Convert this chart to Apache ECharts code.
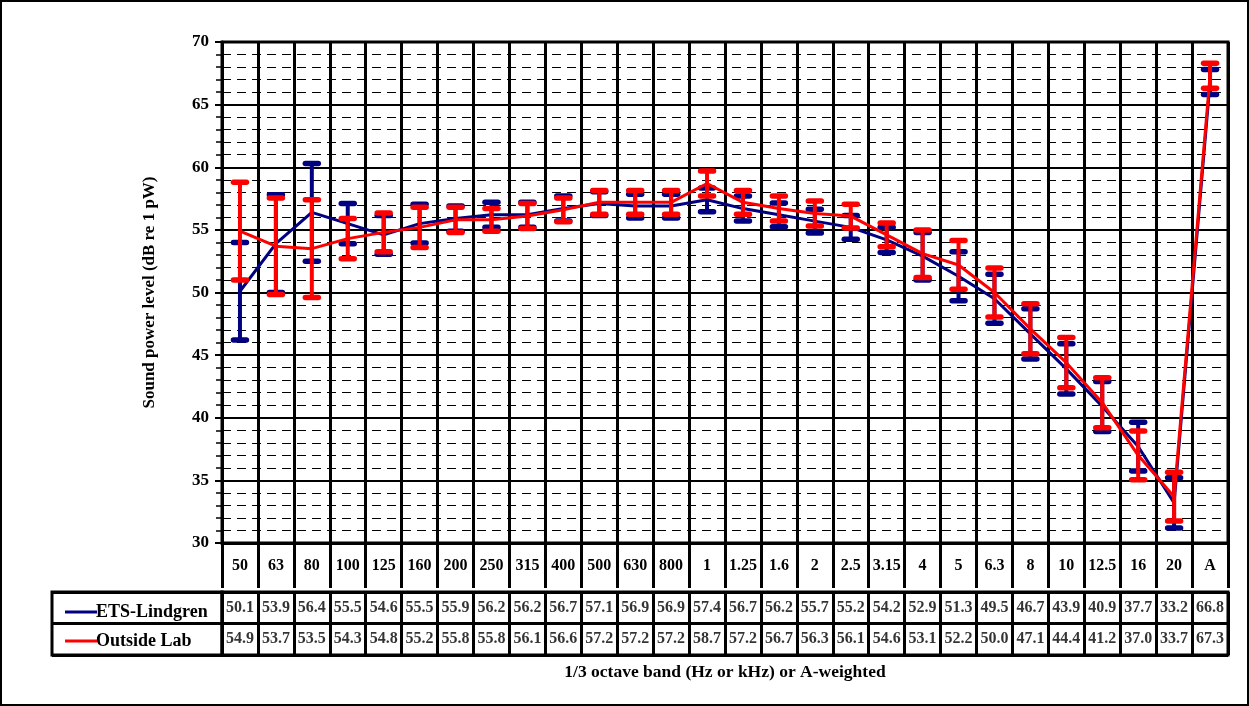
<!DOCTYPE html>
<html>
<head>
<meta charset="utf-8">
<script src="https://cdn.jsdelivr.net/npm/echarts@6/dist/echarts.min.js"></script>
<style>
html,body{margin:0;padding:0;background:#fff;}
#chart{width:1249px;height:706px;box-sizing:border-box;border:2px solid #000;}
</style>
</head>
<body>
<div id="chart"></div>
<script>
const categories = ['50','63','80','100','125','160','200','250','315','400','500','630','800','1','1.25','1.6','2','2.5','3.15','4','5','6.3','8','10','12.5','16','20','A'];
const etsValues = [50.1,53.9,56.4,55.5,54.6,55.5,55.9,56.2,56.2,56.7,57.1,56.9,56.9,57.4,56.7,56.2,55.7,55.2,54.2,52.9,51.3,49.5,46.7,43.9,40.9,37.7,33.2,66.8];
const outValues = [54.9,53.7,53.5,54.3,54.8,55.2,55.8,55.8,56.1,56.6,57.2,57.2,57.2,58.7,57.2,56.7,56.3,56.1,54.6,53.1,52.2,50.0,47.1,44.4,41.2,37.0,33.7,67.3];
const etsErr = [3.9,3.9,3.9,1.6,1.55,1.55,1.0,1.0,1.0,1.0,0.95,0.95,0.95,0.95,1.0,0.95,0.95,0.95,1.0,1.9,1.95,1.95,2.0,2.0,2.0,1.95,2.0,1.0];
const outErr = [3.9,3.85,3.9,1.6,1.55,1.6,1.0,0.9,1.0,0.95,0.95,0.95,0.95,1.0,0.95,1.0,1.0,0.95,0.95,1.9,1.95,1.95,2.0,2.0,2.0,1.95,1.95,1.0];
const seriesNames = ['ETS-Lindgren','Outside Lab'];
const yTicks = {min:30, max:70, interval:5};

const BLUE = '#000080', RED = '#ff0000';
const FONT = '"Liberation Serif","Times New Roman",serif';

function errRender(color){
  return function(params, api){
    const i = api.value(0), v = api.value(1), e = api.value(2);
    const top = api.coord([i, v + e]);
    const bot = api.coord([i, v - e]);
    const hw = 6.5;
    return {type:'group', children:[
      {type:'line', shape:{x1:top[0],y1:top[1],x2:bot[0],y2:bot[1]}, style:{stroke:color,lineWidth:4}},
      {type:'line', shape:{x1:top[0]-hw,y1:top[1],x2:top[0]+hw,y2:top[1]}, style:{stroke:color,lineWidth:5.5,lineCap:'round'}},
      {type:'line', shape:{x1:bot[0]-hw,y1:bot[1],x2:bot[0]+hw,y2:bot[1]}, style:{stroke:color,lineWidth:5.5,lineCap:'round'}}
    ]};
  };
}

const tableData = [];
etsValues.forEach((v,i)=>tableData.push([i, seriesNames[0], v]));
outValues.forEach((v,i)=>tableData.push([i, seriesNames[1], v]));

const chart = echarts.init(document.getElementById('chart'), null, {renderer:'canvas'});
chart.setOption({
  animation:false,
  backgroundColor:'#fff',
  textStyle:{fontFamily:FONT},
  legend:{
    data:seriesNames.map(n=>({name:n, icon:'rect'})),
    orient:'vertical', left:58, top:596, itemWidth:32, itemHeight:3, itemGap:11,
    textStyle:{fontFamily:FONT, fontWeight:'bold', fontSize:18, color:'#000', padding:[0,0,0,-6]},
    selectedMode:false
  },
  grid:[
    {left:220, right:19, top:40, bottom:161, show:true, borderColor:'#000', borderWidth:3},
    {left:220, right:19, top:590, height:63, show:true, borderColor:'#000', borderWidth:3},
    {left:50, width:170, top:590, height:63, show:true, borderColor:'#000', borderWidth:3}
  ],
  xAxis:[
    {type:'category', gridIndex:0, data:categories, boundaryGap:true,
     axisLine:{lineStyle:{color:'#000', width:3}},
     axisTick:{show:true, interval:0, length:45, lineStyle:{color:'#000', width:3}},
     axisLabel:{interval:0, margin:15, color:'#000', fontWeight:'bold', fontSize:16, fontFamily:FONT},
     splitLine:{show:true, interval:0, lineStyle:{color:'#000', width:3}}},
    {type:'category', gridIndex:1, data:categories, boundaryGap:true, position:'bottom',
     axisLine:{show:false}, axisTick:{show:false}, axisLabel:{show:false},
     splitLine:{show:true, interval:0, lineStyle:{color:'#000', width:3}},
     name:'1/3 octave band (Hz or kHz) or A-weighted', nameLocation:'middle', nameGap:8,
     nameTextStyle:{fontWeight:'bold', fontSize:17.5, color:'#000', fontFamily:FONT}},
    {type:'value', gridIndex:2, show:false, min:0, max:1}
  ],
  yAxis:[
    {type:'value', gridIndex:0, min:yTicks.min, max:yTicks.max, interval:yTicks.interval,
     name:'Sound power level (dB re 1 pW)', nameLocation:'middle', nameGap:64, nameRotate:90,
     nameTextStyle:{fontWeight:'bold', fontSize:17, color:'#000', fontFamily:FONT},
     axisLine:{show:true, lineStyle:{color:'#000', width:3}},
     axisTick:{show:true, length:7, lineStyle:{color:'#000', width:2}},
     minorTick:{show:true, splitNumber:5, length:6, lineStyle:{color:'#000', width:1.5}},
     axisLabel:{margin:13, color:'#000', fontWeight:'bold', fontSize:17, fontFamily:FONT},
     splitLine:{show:true, lineStyle:{color:'#000', width:2}},
     minorSplitLine:{show:true, lineStyle:{color:'#000', width:1, type:[9,6]}}},
    {type:'category', gridIndex:1, data:seriesNames, inverse:true,
     axisLine:{show:false}, axisTick:{show:false}, axisLabel:{show:false},
     splitLine:{show:true, interval:0, lineStyle:{color:'#000', width:3}}},
    {type:'category', gridIndex:2, data:seriesNames, inverse:true,
     axisLine:{show:false}, axisTick:{show:false}, axisLabel:{show:false},
     splitLine:{show:true, interval:0, lineStyle:{color:'#000', width:3}}}
  ],
  series:[
    {name:'ETS-Lindgren err', type:'custom', xAxisIndex:0, yAxisIndex:0, z:3,
     renderItem:errRender(BLUE), data:etsValues.map((v,i)=>[i,v,etsErr[i]])},
    {name:seriesNames[0], type:'line', xAxisIndex:0, yAxisIndex:0, z:4, data:etsValues,
     symbol:'none', lineStyle:{color:BLUE, width:3}, itemStyle:{color:BLUE}},
    {name:'Outside Lab err', type:'custom', xAxisIndex:0, yAxisIndex:0, z:5,
     renderItem:errRender(RED), data:outValues.map((v,i)=>[i,v,outErr[i]])},
    {name:seriesNames[1], type:'line', xAxisIndex:0, yAxisIndex:0, z:6, data:outValues,
     symbol:'none', lineStyle:{color:RED, width:3}, itemStyle:{color:RED}},
    {name:'table', type:'scatter', xAxisIndex:1, yAxisIndex:1, data:tableData,
     symbol:'rect', symbolSize:1, itemStyle:{color:'rgba(0,0,0,0)'}, silent:true,
     label:{show:true, position:'inside', color:'#000', fontWeight:'bold', fontSize:16, fontFamily:FONT,
       formatter:p=>Number(p.value[2]).toFixed(1)}}
  ]
});
</script>
</body>
</html>
